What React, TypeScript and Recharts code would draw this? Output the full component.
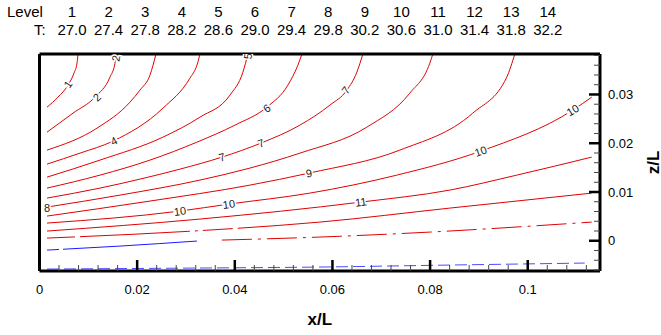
import { ComposedChart, Line, ReferenceLine, Scatter, XAxis, YAxis } from 'recharts'

// contour header
const levels = [1, 2, 3, 4, 5, 6, 7, 8, 9, 10, 11, 12, 13, 14]
const temps = ['27.0', '27.4', '27.8', '28.2', '28.6', '29.0', '29.4', '29.8', '30.2', '30.6', '31.0', '31.4', '31.8', '32.2']

// axis ticks
const xTicks = [0, 0.004, 0.008, 0.012, 0.016, 0.02, 0.024, 0.028, 0.032, 0.036, 0.04, 0.044, 0.048, 0.052, 0.056, 0.06, 0.064, 0.068, 0.072, 0.076, 0.08, 0.084, 0.088, 0.092, 0.096, 0.1, 0.104, 0.108, 0.112]
const xMajor = [0, 0.02, 0.04, 0.06, 0.08, 0.1]
const xMajorLabels = ['0', '0.02', '0.04', '0.06', '0.08', '0.1']
const zTicks = [-0.006, -0.004, -0.002, 0, 0.002, 0.004, 0.006, 0.008, 0.01, 0.012, 0.014, 0.016, 0.018, 0.02, 0.022, 0.024, 0.026, 0.028, 0.03, 0.032, 0.034, 0.036, 0.038]
const zMajor = [0, 0.01, 0.02, 0.03]
const zMajorLabels = ['0', '0.01', '0.02', '0.03']
const X_MAX = 0.1148
const Z_MIN = -0.0062
const Z_MAX = 0.0383

// contour lines, [x/L, z/L]
const level1: [number, number][] = [[0.00154, 0.0274], [0.00379, 0.02945], [0.00583, 0.03191], [0.00706, 0.03436], [0.00768, 0.03641], [0.00788, 0.03826]]
const level2: [number, number][] = [[0.00154, 0.02227], [0.00686, 0.02617], [0.01136, 0.02945], [0.01443, 0.03355], [0.01546, 0.03641], [0.01566, 0.03826]]
const level3: [number, number][] = [[0.00154, 0.01859], [0.01177, 0.02309], [0.01853, 0.02842], [0.02057, 0.03088], [0.02262, 0.03395], [0.02385, 0.03826]]
const level4: [number, number][] = [[0.00154, 0.01572], [0.00829, 0.01797], [0.01505, 0.02043], [0.02528, 0.02719], [0.03081, 0.03334], [0.03224, 0.036], [0.03286, 0.03826]]
const level5: [number, number][] = [[0.00154, 0.01305], [0.01238, 0.01654], [0.02528, 0.02125], [0.03286, 0.02535], [0.039, 0.02986], [0.04166, 0.03457], [0.04268, 0.03826]]
const level6: [number, number][] = [[0.00154, 0.0108], [0.01238, 0.01346], [0.02262, 0.01654], [0.03224, 0.02022], [0.04002, 0.02371], [0.04657, 0.0274], [0.05087, 0.03191], [0.05292, 0.036], [0.05374, 0.03826]]
const level7: [number, number][] = [[0.00154, 0.00875], [0.01238, 0.0108], [0.02057, 0.01264], [0.02876, 0.01469], [0.03736, 0.01715], [0.04534, 0.02002], [0.05333, 0.02371], [0.05947, 0.02781], [0.06295, 0.03088], [0.065, 0.03457], [0.06622, 0.03826]]
const level8: [number, number][] = [[0.00154, 0.00691], [0.01648, 0.00936], [0.03286, 0.01244], [0.04309, 0.0149], [0.05333, 0.01797], [0.06704, 0.0233], [0.07584, 0.03027], [0.07994, 0.03641], [0.08055, 0.03826]]
const level9: [number, number][] = [[0.00154, 0.00506], [0.02262, 0.00814], [0.04309, 0.01141], [0.05517, 0.01387], [0.0738, 0.01859], [0.08874, 0.02617], [0.0957, 0.03355], [0.09734, 0.03826]]
const level10: [number, number][] = [[0.00154, 0.00363], [0.02876, 0.00609], [0.03879, 0.00752], [0.05537, 0.00977], [0.07318, 0.01346], [0.09038, 0.01838], [0.10921, 0.02678], [0.1131, 0.02945]]
const level11: [number, number][] = [[0.00154, 0.00199], [0.03286, 0.00445], [0.06581, 0.00793], [0.08403, 0.01039], [0.09775, 0.01346], [0.1131, 0.01715]]
const level12: [number, number][] = [[0.00154, 0.00055], [0.03142, 0.00199], [0.05742, 0.00383], [0.08403, 0.0067], [0.1131, 0.00977]]
const level13Blue: [number, number][] = [[0.00154, -0.00191], [0.01648, -0.00109], [0.03224, -0.00006]]
const level13Red: [number, number][] = [[0.03736, 0.00014], [0.05742, 0.00076], [0.07994, 0.00178], [0.1131, 0.00383]]
const level14: [number, number][] = [[0.00154, -0.0058], [0.03286, -0.00559], [0.05742, -0.00539], [0.08403, -0.00498], [0.11167, -0.00457]]

// inline contour labels
const labelText = ['1', '2', '2', '4', '5', '6', '7', '7', '7', '8', '9', '10', '10', '10', '10', '11']
const labelX = [0.00583, 0.01177, 0.01566, 0.01525, 0.04268, 0.04657, 0.06274, 0.04534, 0.03736, 0.00154, 0.05517, 0.02876, 0.03879, 0.09038, 0.10921, 0.06581]
const labelZ = [0.03211, 0.02945, 0.03744, 0.02043, 0.03785, 0.02719, 0.03088, 0.02002, 0.01715, 0.0067, 0.01387, 0.00609, 0.00752, 0.01838, 0.02678, 0.00793]
const labelAngles = [-56, -45, -80, -27, -85, -37, -52, -21, -17, 0, -12, -8, -8, -20, -31, -8]

const RED = '#e00000'
const BLUE = '#1a1aff'
const FONT = "'Liberation Sans', Arial, sans-serif"

const pts = (a: [number, number][]) => a.map(([x, z]) => ({ x, z }))
const labels = labelText.map((t, i) => ({ x: labelX[i], z: labelZ[i], t, i }))

function XTick({ x, y, payload }: any) {
  const i = xMajor.findIndex((m) => Math.abs(m - payload.value) < 1e-9)
  const major = i >= 0
  return (
    <g>
      <line x1={x} y1={y} x2={x} y2={y - (major ? 11 : 6)} stroke={major ? '#000' : '#444'} strokeWidth={major ? 2.5 : 1} />
      {major && (
        <text x={x} y={y + 23} textAnchor="middle" fontSize={13} fill="#000" fontFamily={FONT}>
          {xMajorLabels[i]}
        </text>
      )}
    </g>
  )
}

function ZTick({ x, y, payload }: any) {
  const i = zMajor.findIndex((m) => Math.abs(m - payload.value) < 1e-9)
  const major = i >= 0
  return (
    <g>
      <line x1={x} y1={y} x2={x - (major ? 11 : 6)} y2={y} stroke={major ? '#000' : '#444'} strokeWidth={major ? 2.5 : 1} />
      {major && (
        <text x={x + 8} y={y} dy="0.35em" textAnchor="start" fontSize={13} fill="#000" fontFamily={FONT}>
          {zMajorLabels[i]}
        </text>
      )}
    </g>
  )
}

function ContourLabel(props: any) {
  const { cx, cy, payload } = props
  const angle = labelAngles[payload.i] ?? 0
  return (
    <text
      x={cx}
      y={cy}
      transform={`rotate(${angle} ${cx} ${cy})`}
      textAnchor="middle"
      dominantBaseline="central"
      fontSize={11}
      fill="#222"
      stroke="#fff"
      strokeWidth={3}
      paintOrder="stroke"
      fontFamily={FONT}
    >
      {payload.t}
    </text>
  )
}

function ZLabel(props: any) {
  const vb = props.viewBox
  const cx = vb.x + 53
  const cy = vb.y + vb.height / 2
  return (
    <text x={cx} y={cy} transform={`rotate(-90 ${cx} ${cy})`} textAnchor="middle" dominantBaseline="central" fontSize={17} fontWeight="bold" fill="#000" fontFamily={FONT}>
      z/L
    </text>
  )
}

const solid = [level1, level2, level3, level4, level5, level6, level7, level8, level9, level10, level11]

export default function App() {
  return (
    <div style={{ position: 'absolute', left: 0, top: 0, width: 661, height: 335, fontFamily: FONT, background: '#fff' }}>
      {levels.map((l, i) => (
        <div key={'l' + l} style={{ position: 'absolute', left: 72 + 36.6 * i - 20, width: 40, top: 3, textAlign: 'center', fontSize: 15, lineHeight: '18px' }}>
          {l}
        </div>
      ))}
      {temps.map((t, i) => (
        <div key={'t' + t} style={{ position: 'absolute', left: 72 + 36.6 * i - 20, width: 40, top: 21, textAlign: 'center', fontSize: 15, lineHeight: '18px' }}>
          {t}
        </div>
      ))}
      <div style={{ position: 'absolute', left: 7, top: 3, fontSize: 15, lineHeight: '18px' }}>Level</div>
      <div style={{ position: 'absolute', left: 34, top: 21, fontSize: 15, lineHeight: '18px' }}>T:</div>
      <div style={{ position: 'absolute', left: 0, top: 0 }}>
        <ComposedChart width={661} height={335} margin={{ top: 54, right: 0, bottom: 0, left: 39.5 }}>
          <XAxis
            type="number"
            dataKey="x"
            domain={[0, X_MAX]}
            allowDataOverflow
            ticks={xTicks}
            interval={0}
            tick={<XTick />}
            tickLine={false}
            tickSize={0}
            tickMargin={0}
            height={64}
            axisLine={{ stroke: '#000', strokeWidth: 3 }}
            label={{ value: 'x/L', position: 'insideBottom', offset: 10, fontSize: 17, fontWeight: 'bold', fill: '#000' }}
          />
          <YAxis
            orientation="right"
            type="number"
            dataKey="z"
            domain={[Z_MIN, Z_MAX]}
            allowDataOverflow
            ticks={zTicks}
            interval={0}
            tick={<ZTick />}
            tickLine={false}
            tickSize={0}
            tickMargin={0}
            width={61}
            axisLine={{ stroke: '#000', strokeWidth: 3 }}
            label={<ZLabel />}
          />
          {solid.map((d, i) => (
            <Line key={i} data={pts(d)} dataKey="z" type="monotone" stroke={RED} strokeWidth={1} dot={false} isAnimationActive={false} />
          ))}
          <Line data={pts(level12)} dataKey="z" type="monotone" stroke={RED} strokeWidth={1} strokeDasharray="28 5 110 5 3 5 30 5 1000" dot={false} isAnimationActive={false} />
          <Line data={pts(level13Blue)} dataKey="z" type="monotone" stroke={BLUE} strokeWidth={1} strokeDasharray="12 4 1000" dot={false} isAnimationActive={false} />
          <Line data={pts(level13Red)} dataKey="z" type="monotone" stroke={RED} strokeWidth={1} strokeDasharray="30 6 3 6" dot={false} isAnimationActive={false} />
          <Line data={pts(level14)} dataKey="z" type="monotone" stroke="#4a4aff" strokeWidth={1} strokeDasharray="12 5" dot={false} isAnimationActive={false} />
          <ReferenceLine x={0} stroke="#000" strokeWidth={3} ifOverflow="visible" />
          <ReferenceLine y={Z_MAX} stroke="#000" strokeWidth={3} ifOverflow="visible" />
          <Scatter data={labels} dataKey="z" shape={<ContourLabel />} isAnimationActive={false} />
        </ComposedChart>
      </div>
    </div>
  )
}
